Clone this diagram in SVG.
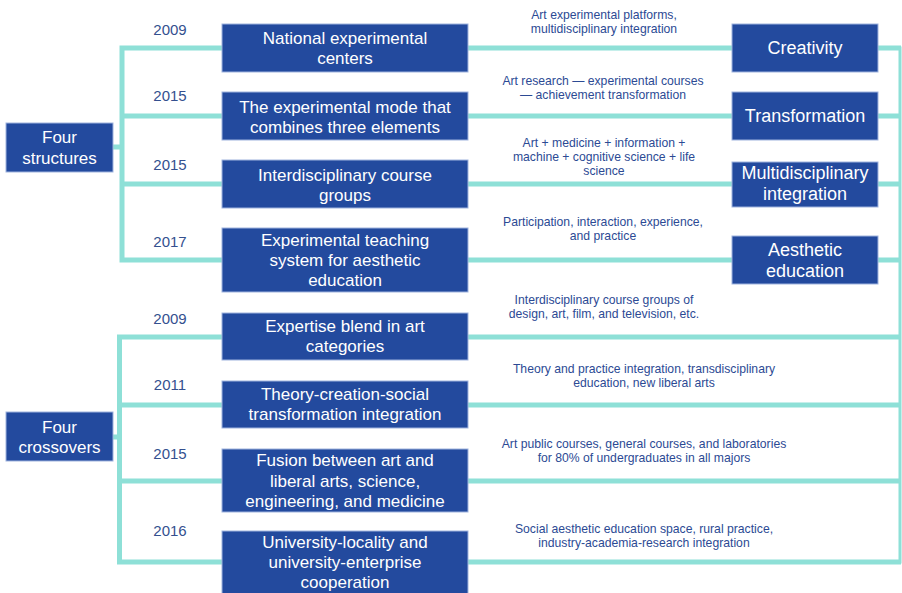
<svg xmlns="http://www.w3.org/2000/svg" width="902" height="593" viewBox="0 0 902 593">
<style>
.box{fill:#234a9e;stroke:#9fb3de;stroke-width:1}
.nt{font-family:"Liberation Sans",Arial,sans-serif;font-size:17px;fill:#ffffff;text-anchor:middle}
.rt{font-family:"Liberation Sans",Arial,sans-serif;font-size:18px;fill:#ffffff;text-anchor:middle}
.yr{font-family:"Liberation Sans",Arial,sans-serif;font-size:15px;fill:#34508f;text-anchor:middle}
.an{font-family:"Liberation Sans",Arial,sans-serif;font-size:12.2px;fill:#2c4a94;text-anchor:middle}
.ln{fill:none;stroke:#8ee0d7;stroke-width:5}
.lr{fill:none;stroke:#8ee0d7;stroke-width:3}
</style>
<rect width="902" height="593" fill="#ffffff"/>
<g id="connectors">
<path class="ln" d="M113 147H122M222 48H122V260H222M122 116H222M122 184H222"/>
<path class="ln" d="M468 48H732M468 116H732M468 184H732M468 260H732"/>
<path class="ln" d="M878 48H901M878 116H901M878 184H901M878 260H901"/>
<path class="ln" d="M113 437H120M222 337H119.5V562H222M119.5 405H222M119.5 481H222"/>
<path class="ln" d="M468 337H901M468 405H901M468 481H901M468 562H901"/>
<path class="lr" d="M900 46.5V563.5"/>
</g>
<g id="labels">
<text class="yr" x="170" y="35">2009</text>
<text class="yr" x="170" y="101">2015</text>
<text class="yr" x="170" y="170">2015</text>
<text class="yr" x="170" y="247">2017</text>
<text class="yr" x="170" y="324">2009</text>
<text class="yr" x="170" y="390">2011</text>
<text class="yr" x="170" y="459">2015</text>
<text class="yr" x="170" y="536">2016</text>
<text class="an" x="604" y="19">Art experimental platforms,</text>
<text class="an" x="604" y="33">multidisciplinary integration</text>
<text class="an" x="603" y="85">Art research — experimental courses</text>
<text class="an" x="603" y="99">— achievement transformation</text>
<text class="an" x="604" y="147">Art + medicine + information +</text>
<text class="an" x="604" y="161">machine + cognitive science + life</text>
<text class="an" x="604" y="175">science</text>
<text class="an" x="603" y="226">Participation, interaction, experience,</text>
<text class="an" x="603" y="240">and practice</text>
<text class="an" x="604" y="304">Interdisciplinary course groups of</text>
<text class="an" x="604" y="318">design, art, film, and television, etc.</text>
<text class="an" x="644" y="373">Theory and practice integration, transdisciplinary</text>
<text class="an" x="644" y="387">education, new liberal arts</text>
<text class="an" x="644" y="448">Art public courses, general courses, and laboratories</text>
<text class="an" x="644" y="462">for 80% of undergraduates in all majors</text>
<text class="an" x="644" y="533">Social aesthetic education space, rural practice,</text>
<text class="an" x="644" y="547">industry-academia-research integration</text>
</g>
<g id="four-structures"><rect class="box" x="6" y="123" width="107" height="49"/><text class="nt" x="59.5" y="143">Four</text><text class="nt" x="59.5" y="164">structures</text></g>
<g id="four-crossovers"><rect class="box" x="6" y="412" width="107" height="49"/><text class="nt" x="59.5" y="433">Four</text><text class="nt" x="59.5" y="453">crossovers</text></g>
<g id="national-centers"><rect class="box" x="222" y="24" width="246" height="48"/><text class="nt" x="345" y="44">National experimental</text><text class="nt" x="345" y="64">centers</text></g>
<g id="experimental-mode"><rect class="box" x="222" y="92" width="246" height="48"/><text class="nt" x="345" y="113">The experimental mode that</text><text class="nt" x="345" y="133">combines three elements</text></g>
<g id="course-groups"><rect class="box" x="222" y="160" width="246" height="48"/><text class="nt" x="345" y="181">Interdisciplinary course</text><text class="nt" x="345" y="201">groups</text></g>
<g id="aesthetic-system"><rect class="box" x="222" y="228" width="246" height="64"/><text class="nt" x="345" y="246">Experimental teaching</text><text class="nt" x="345" y="266">system for aesthetic</text><text class="nt" x="345" y="286">education</text></g>
<g id="expertise-blend"><rect class="box" x="222" y="313" width="246" height="47"/><text class="nt" x="345" y="332">Expertise blend in art</text><text class="nt" x="345" y="352">categories</text></g>
<g id="theory-creation"><rect class="box" x="222" y="381" width="246" height="47"/><text class="nt" x="345" y="400">Theory-creation-social</text><text class="nt" x="345" y="420">transformation integration</text></g>
<g id="fusion"><rect class="box" x="222" y="449" width="246" height="63"/><text class="nt" x="345" y="466">Fusion between art and</text><text class="nt" x="345" y="487">liberal arts, science,</text><text class="nt" x="345" y="507">engineering, and medicine</text></g>
<g id="university-locality"><rect class="box" x="222" y="531" width="246" height="70"/><text class="nt" x="345" y="548">University-locality and</text><text class="nt" x="345" y="568">university-enterprise</text><text class="nt" x="345" y="588">cooperation</text></g>
<g id="creativity"><rect class="box" x="732" y="24" width="146" height="48"/><text class="rt" x="805" y="54">Creativity</text></g>
<g id="transformation"><rect class="box" x="732" y="92" width="146" height="48"/><text class="rt" x="805" y="122">Transformation</text></g>
<g id="multidisciplinary"><rect class="box" x="732" y="162" width="146" height="45"/><text class="rt" x="805" y="179">Multidisciplinary</text><text class="rt" x="805" y="200">integration</text></g>
<g id="aesthetic-education"><rect class="box" x="732" y="236" width="146" height="48"/><text class="rt" x="805" y="256">Aesthetic</text><text class="rt" x="805" y="277">education</text></g>
</svg>
